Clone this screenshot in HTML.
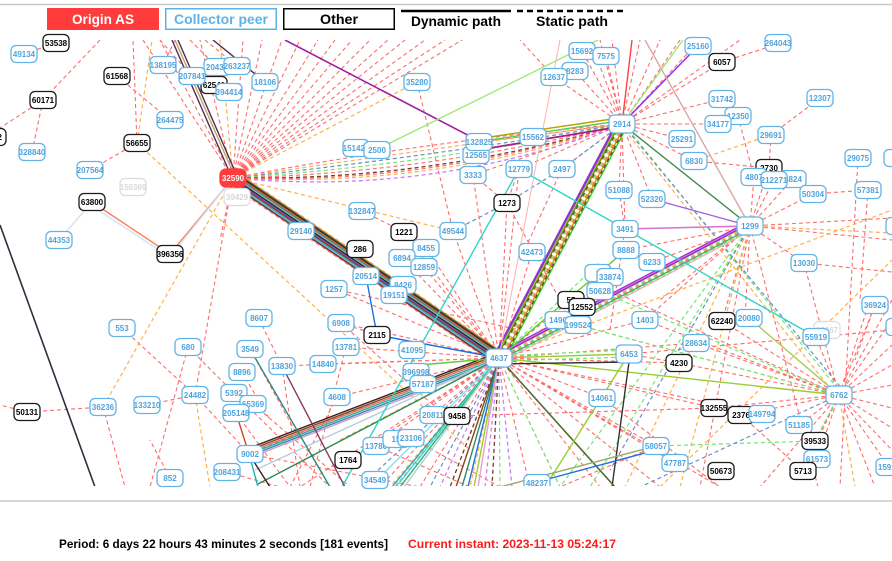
<!DOCTYPE html>
<html><head><meta charset="utf-8">
<style>
html,body{margin:0;padding:0;background:#fff;}
svg{display:block;}
.r{stroke:#ff6b6b;stroke-dasharray:4 3;stroke-width:1.1;fill:none}
.o{stroke:#ffb04a;stroke-dasharray:4 3;stroke-width:1.2;fill:none}
.g{stroke:#6fe86f;stroke-dasharray:4 3;stroke-width:1.2;fill:none}
.bd{stroke:#6a8cc4;stroke-dasharray:4 3;stroke-width:1.2;fill:none}
.pd{stroke:#c77dff;stroke-dasharray:4 3;stroke-width:1.3;fill:none}
.nd{stroke:#7b3b2a;stroke-dasharray:4 3;stroke-width:1.3;fill:none}
.s{fill:none;stroke-width:1.4}
.nb rect{fill:#fff;stroke:#63b4e6;stroke-width:1.3}
.nb text{fill:#4fa3dd}
.nk rect{fill:#fff;stroke:#1a1a1a;stroke-width:1.3}
.nk text{fill:#000}
.nf rect{fill:#fff;stroke:#dcdcdc;stroke-width:1.2}
.nf text{fill:#d8d8d8}
.no rect{fill:#ff3b3b;stroke:#ff3b3b;stroke-width:1.3}
.no text{fill:#fff}
.nodes text{font-family:"Liberation Sans",sans-serif;font-size:8px;font-weight:bold;text-anchor:middle}
.lg{font-family:"Liberation Sans",sans-serif;font-size:14px;font-weight:bold;text-anchor:middle}
.ft{font-family:"Liberation Sans",sans-serif;font-size:12px;font-weight:bold}
</style></head>
<body>
<svg width="892" height="561" viewBox="0 0 892 561" xmlns="http://www.w3.org/2000/svg">
<defs><clipPath id="c"><rect x="0" y="40" width="892" height="446"/></clipPath></defs>
<line x1="0" y1="4.5" x2="892" y2="4.5" stroke="#c8c8c8" stroke-width="1.5"/>
<line x1="0" y1="501" x2="892" y2="501" stroke="#c8c8c8" stroke-width="1.5"/>

<!-- legend -->
<rect x="47" y="8" width="112" height="22" fill="#ff3b3b"/>
<text class="lg" x="103" y="24" fill="#fff" textLength="62" lengthAdjust="spacingAndGlyphs">Origin AS</text>
<rect x="165.75" y="8.75" width="110.5" height="20.5" fill="#fff" stroke="#5db3e8" stroke-width="1.5"/>
<text class="lg" x="221" y="24" fill="#5db3e8" textLength="94" lengthAdjust="spacingAndGlyphs">Collector peer</text>
<rect x="283.75" y="8.75" width="110.5" height="20.5" fill="#fff" stroke="#000" stroke-width="1.5"/>
<text class="lg" x="339" y="24" fill="#000" textLength="38" lengthAdjust="spacingAndGlyphs">Other</text>
<line x1="401" y1="11" x2="511" y2="11" stroke="#000" stroke-width="2.5"/>
<text class="lg" x="456" y="26" fill="#000" textLength="90" lengthAdjust="spacingAndGlyphs">Dynamic path</text>
<line x1="517" y1="11" x2="627" y2="11" stroke="#000" stroke-width="2.5" stroke-dasharray="6 4"/>
<text class="lg" x="572" y="26" fill="#000" textLength="72" lengthAdjust="spacingAndGlyphs">Static path</text>

<g clip-path="url(#c)">
<!-- red dashed -->
<path class="r" d="M233 178L143 40M233 178L160 40M233 178L200 40M233 178L243 40M233 178L262 40M233 178L282 40M233 178L300 40M233 178L318 40M233 178L335 40M233 178L352 40M233 178L370 40M233 178L388 40M233 178L405 40M233 178L425 40M233 178L445 40M233 178L462 40M233 178L195 395M100 40L43 100M43 100L0 128M43 100L32 152M24 54L56 43M117 76L170 120M137 143L133 40M137 143L90 170M160 40L192 76M175 40L163 65M190 40L217 67M205 40L237 66M417 82L453 231M362 211L404 232M404 232L499 358M233 178L220 240"/>
<path class="r" d="M499 358L394 295M499 358L424 267M499 358L426 248M499 358L402 258M499 358L334 289M499 358L341 323M499 358L346 347M499 358L323 364M499 358L337 397M499 358L376 446M499 358L348 460M499 358L300 487M499 358L420 487M499 358L450 487M499 358L532 252M499 358L473 175M499 358L507 203M499 358L453 231M499 358L571 300M499 358L645 320M499 358L696 343M499 358L679 363M499 358L602 398M499 358L656 446M499 358L675 463M499 358L714 408M499 358L762 414M499 358L560 487M499 358L600 487M499 358L660 487M499 358L720 487M499 358L457 416M499 358L433 415M499 358L282 366M457 416L714 408M741 415L803 471M499 358L519 169M499 358L380 487M499 358L530 487"/>
<path class="r" d="M622 124L582 51M622 124L606 56M622 124L575 71M622 124L554 77M622 124L600 40M622 124L612 40M622 124L660 40M622 124L680 40M622 124L722 62M622 124L722 99M622 124L718 124M622 124L682 139M622 124L694 161M622 124L562 169M622 124L619 190M622 124L625 229M622 124L519 169M622 124L473 175M622 124L750 226M622 124L652 199M722 62L778 44M738 116L754 177M694 161L769 168M771 135L820 98M771 135L769 168M554 77L520 40M622 124L640 40M622 124L590 40M622 124L700 40M622 124L740 40M622 124L479 142M562 169L520 260M625 229L619 190M625 229L610 330M519 169L507 203M473 175L507 203M507 203L560 300"/>
<path class="r" d="M750 226L754 177M750 226L769 168M750 226L774 180M750 226L793 179M750 226L813 194M750 226L804 263M750 226L892 218M750 226L722 321M750 226L645 320M750 226L626 250M750 226L700 487M750 226L660 300M804 263L892 272M813 194L868 190M858 158L840 487M868 190L860 300M875 305L855 360M750 226L892 240M750 226L818 487M652 262L750 226M750 226L745 318"/>
<path class="r" d="M839 395L892 345M839 395L892 365M839 395L892 385M839 395L892 408M839 395L892 428M839 395L892 450M839 395L889 467M839 395L875 487M839 395L803 471M839 395L817 459M839 395L760 487M839 395L804 263M839 395L870 300M839 395L875 305M839 395L892 300M839 395L816 337M839 395L714 408M839 395L741 415M839 395L679 363M839 395L696 343M839 395L722 321M839 395L645 320M839 395L578 325M839 395L799 425M839 395L815 441M629 354L679 363M629 354L892 330M602 398L720 487M656 446L560 487M839 395L892 320M839 395L610 290"/>
<path class="r" d="M122 328L195 395M195 395L147 405M103 407L27 412M27 412L0 405M103 407L125 487M188 347L234 393M259 319L282 366M242 372L270 420M195 395L249 454M234 393L330 487M253 404L350 487M236 413L290 487M188 347L150 487M249 454L420 487M249 454L380 400M227 472L280 487M282 366L300 487M337 397L290 487M346 347L310 487M341 323L450 420M377 335L341 323M334 289L520 330M250 349L300 440M376 446L470 487M411 438L500 487M249 454L270 487M170 478L150 440"/>

<!-- A-B dashed curved bundle -->
<path class="r" d="M233 178Q426 141 622 124"/>
<path class="o" d="M233 178Q427 149 622 124"/>
<path class="bd" d="M233 178Q428 157 622 124"/>
<path class="g" d="M233 178Q429 165 622 124"/>
<path class="r" d="M233 178Q430 173 622 124"/>
<path class="nd" d="M233 178Q431 181 622 124"/>
<path class="o" d="M233 178Q432 189 622 124"/>
<path class="pd" d="M233 178Q433 197 622 124"/>
<path class="r" d="M233 178Q429 185 622 124"/>

<!-- orange dashed -->
<path class="o" d="M137 143L152 40M233 178L417 82M233 178L453 231M233 178L103 407M137 143L470 450M195 395L210 487M771 135L694 161M750 226L892 233M839 395L855 487M750 226L625 487M750 226L680 487M499 358L600 291M499 358L626 250M499 358L390 487M620 124L837 397M622 124L750 226M220 40L233 178M499 358L470 487M499 358L892 210M660 487L892 260M499 358L340 440"/>
<!-- green dashed -->
<path class="g" d="M499 356L629 350M499 361L629 357M578 325L839 395M600 291L839 395M656 446L815 441M815 441L839 395M499 358L500 487M499 358L560 487M750 226L590 487M750 226L560 487M624 124L841 393M499 358L600 262"/>
<!-- blue dashed -->
<path class="bd" d="M507 203L562 169M562 169L622 124M507 203L453 231M839 395L640 487M499 358L360 487M623 125L843 390M499 358L430 487M750 226L610 470"/>
<!-- purple/brown dashed -->
<path class="pd" d="M499 358L485 487M499 358L512 487M499 358L440 487M499 358L395 487"/>
<path class="nd" d="M499 358L492 487M499 358L450 487M499 358L400 487"/>

<!-- A-C thick bundle -->
<line x1="233" y1="178" x2="499" y2="358" stroke="#f6a8a8" stroke-width="15" opacity="0.55"/>
<g class="s">
<line x1="233" y1="178" x2="499" y2="358" stroke="#556b2f" transform="translate(3.38 -4.96)"/>
<line x1="233" y1="178" x2="499" y2="358" stroke="#3b1f2b" transform="translate(2.7 -3.97)"/>
<line x1="233" y1="178" x2="499" y2="358" stroke="#d2691e" transform="translate(2.03 -2.98)"/>
<line x1="233" y1="178" x2="499" y2="358" stroke="#4682b4" transform="translate(1.35 -1.98)"/>
<line x1="233" y1="178" x2="499" y2="358" stroke="#8fbc8f" transform="translate(0.68 -0.99)"/>
<line x1="233" y1="178" x2="499" y2="358" stroke="#222"/>
<line x1="233" y1="178" x2="499" y2="358" stroke="#6a5acd" transform="translate(-0.68 0.99)"/>
<line x1="233" y1="178" x2="499" y2="358" stroke="#b22222" transform="translate(-1.35 1.98)"/>
<line x1="233" y1="178" x2="499" y2="358" stroke="#20b2aa" transform="translate(-2.03 2.98)"/>
<line x1="233" y1="178" x2="499" y2="358" stroke="#87aee0" transform="translate(-2.7 3.97)"/>
<line x1="233" y1="178" x2="499" y2="358" stroke="#5c3a21" transform="translate(-3.38 4.96)"/>
</g>
<line x1="233" y1="178" x2="499" y2="358" class="o" transform="translate(4.05 -5.95)"/>
<line x1="233" y1="178" x2="499" y2="358" class="r" transform="translate(-4.05 5.95)"/>

<!-- C-B bundle -->
<g class="s">
<line x1="499" y1="358" x2="622" y2="124" stroke="#9932cc" transform="translate(-4.9 -2.6)"/>
<line x1="499" y1="358" x2="622" y2="124" stroke="#8a2be2" transform="translate(-3.9 -2.05)"/>
<line x1="499" y1="358" x2="622" y2="124" stroke="#9acd32" transform="translate(-2.9 -1.5)"/>
<line x1="499" y1="358" x2="622" y2="124" stroke="#6b8e23" transform="translate(-1.95 -1.0)"/>
<line x1="499" y1="358" x2="622" y2="124" stroke="#b5a000" transform="translate(2.9 1.5)"/>
<line x1="499" y1="358" x2="622" y2="124" stroke="#32cd32" transform="translate(4.9 2.6)"/>
</g>
<line x1="499" y1="358" x2="622" y2="124" class="nd" transform="translate(-1 -0.5)"/>
<line x1="499" y1="358" x2="622" y2="124" class="g"/>
<line x1="499" y1="358" x2="622" y2="124" class="o" transform="translate(1 0.5)"/>
<line x1="499" y1="358" x2="622" y2="124" class="r" transform="translate(1.95 1.0)"/>
<line x1="499" y1="358" x2="622" y2="124" class="nd" transform="translate(3.9 2.05)"/>

<!-- C-D bundle -->
<g class="s">
<line x1="499" y1="358" x2="750" y2="226" stroke="#9932cc" transform="translate(-2.1 -4)"/>
<line x1="499" y1="358" x2="750" y2="226" stroke="#da70d6" transform="translate(-1.55 -3)"/>
<line x1="499" y1="358" x2="750" y2="226" stroke="#8a2be2" transform="translate(-1.05 -2)"/>
<line x1="499" y1="358" x2="750" y2="226" stroke="#3cb371" transform="translate(1.05 2)"/>
<line x1="499" y1="358" x2="750" y2="226" stroke="#e8b4b4" transform="translate(2.1 4)"/>
</g>
<line x1="499" y1="358" x2="750" y2="226" class="o" transform="translate(-0.52 -1)"/>
<line x1="499" y1="358" x2="750" y2="226" class="g"/>
<line x1="499" y1="358" x2="750" y2="226" class="r" transform="translate(0.52 1)"/>
<line x1="499" y1="358" x2="750" y2="226" class="g" transform="translate(1.55 3)"/>

<!-- F-C bundle -->
<g class="s">
<line x1="249" y1="454" x2="499" y2="358" stroke="#3b1f2b" transform="translate(-1.94 -5.04)"/>
<line x1="249" y1="454" x2="499" y2="358" stroke="#8b4513" transform="translate(-1.29 -3.36)"/>
<line x1="249" y1="454" x2="499" y2="358" stroke="#e2725b" transform="translate(-0.65 -1.68)"/>
<line x1="249" y1="454" x2="499" y2="358" stroke="#20b2aa"/>
<line x1="249" y1="454" x2="499" y2="358" stroke="#4682b4" transform="translate(0.65 1.68)"/>
<line x1="249" y1="454" x2="499" y2="358" stroke="#c8a2c8" transform="translate(1.29 3.36)"/>
<line x1="255" y1="470" x2="499" y2="358" stroke="#b8cde0"/>
<line x1="258" y1="484" x2="499" y2="358" stroke="#2e8b57"/>
<line x1="249" y1="454" x2="270" y2="487" stroke="#3b1f2b"/>
<line x1="249" y1="454" x2="258" y2="487" stroke="#20b2aa"/>
</g>

<!-- C lower-left bundle -->
<g class="s">
<line x1="499" y1="358" x2="392" y2="487" stroke="#20b2aa"/>
<line x1="499" y1="358" x2="396" y2="487" stroke="#40e0d0"/>
<line x1="499" y1="358" x2="400" y2="487" stroke="#3cb371"/>
<line x1="499" y1="358" x2="404" y2="487" stroke="#9fd8d0"/>
<line x1="499" y1="358" x2="370" y2="487" stroke="#87e0f0"/>
<line x1="499" y1="358" x2="456" y2="487" stroke="#8b4513"/>
<line x1="499" y1="358" x2="462" y2="487" stroke="#2a8a7a"/>
<line x1="499" y1="358" x2="468" y2="487" stroke="#1e6fe0"/>
<line x1="499" y1="358" x2="474" y2="487" stroke="#9acd32"/>
<line x1="499" y1="358" x2="478" y2="487" stroke="#e8a0d0"/>
<line x1="499" y1="358" x2="420" y2="365" stroke="#6c3"/>
</g>

<!-- other solid lines -->
<g class="s">
<line x1="0" y1="225" x2="95" y2="487" stroke="#3a2a3f" stroke-width="1.6"/>
<line x1="172" y1="40" x2="232" y2="178" stroke="#4b2f57"/>
<line x1="175" y1="40" x2="235" y2="177" stroke="#c9a25a"/>
<line x1="178" y1="40" x2="237" y2="176" stroke="#4b2f57"/>
<line x1="213" y1="40" x2="265" y2="82" stroke="#4b2f57"/>
<line x1="285" y1="40" x2="481" y2="142" stroke="#a020a0" stroke-width="1.6"/>
<line x1="490" y1="137" x2="612" y2="119" stroke="#b5a000"/>
<line x1="490" y1="140" x2="612" y2="122" stroke="#5c5"/>
<line x1="490" y1="148" x2="612" y2="128" stroke="#a0208f" stroke-width="1.8"/>
<line x1="233" y1="178" x2="170" y2="254" stroke="#ff7f50"/>
<line x1="233" y1="178" x2="172" y2="254" stroke="#cfe3f7"/>
<line x1="92" y1="202" x2="170" y2="254" stroke="#ff7f50"/>
<line x1="92" y1="206" x2="168" y2="256" stroke="#cfe3f7"/>
<line x1="92" y1="202" x2="59" y2="240" stroke="#cfe3f7"/>
<line x1="376" y1="150" x2="598" y2="40" stroke="#a0e878"/>
<line x1="622" y1="124" x2="683" y2="40" stroke="#a0e878"/>
<line x1="622" y1="124" x2="698" y2="46" stroke="#9932ff" stroke-width="1.6"/>
<line x1="622" y1="124" x2="632" y2="40" stroke="#ff4040"/>
<line x1="645" y1="40" x2="750" y2="226" stroke="#d8a8a8"/>
<line x1="622" y1="124" x2="750" y2="226" stroke="#3a8f50"/>
<line x1="652" y1="199" x2="750" y2="226" stroke="#a060e0"/>
<line x1="625" y1="229" x2="750" y2="226" stroke="#da70d6"/>
<line x1="519" y1="169" x2="625" y2="229" stroke="#30d5c8"/>
<line x1="625" y1="229" x2="816" y2="337" stroke="#30d5c8"/>
<line x1="519" y1="169" x2="342" y2="487" stroke="#30d5c8"/>
<line x1="377" y1="335" x2="366" y2="276" stroke="#1e6fe0"/>
<line x1="377" y1="335" x2="499" y2="358" stroke="#1e6fe0"/>
<line x1="499" y1="358" x2="839" y2="395" stroke="#9acd32"/>
<line x1="749" y1="318" x2="839" y2="395" stroke="#a8c94a"/>
<line x1="499" y1="358" x2="629" y2="354" stroke="#9acd32"/>
<line x1="499" y1="364" x2="629" y2="362" stroke="#333"/>
<line x1="629" y1="362" x2="612" y2="487" stroke="#333"/>
<line x1="499" y1="358" x2="615" y2="487" stroke="#556b2f" stroke-width="1.6"/>
<line x1="629" y1="354" x2="545" y2="487" stroke="#9acd32"/>
<line x1="500" y1="487" x2="656" y2="446" stroke="#a0a870"/>
<line x1="537" y1="482" x2="656" y2="450" stroke="#1e6fe0"/>
<line x1="250" y1="349" x2="330" y2="487" stroke="#2a8a7a"/>
<line x1="282" y1="366" x2="345" y2="487" stroke="#8b3a62"/>
<line x1="236" y1="413" x2="249" y2="454" stroke="#c0502a"/>
<line x1="499" y1="358" x2="626" y2="250" stroke="#6c3"/>
<line x1="499" y1="358" x2="560" y2="40" stroke="#ffb0b0" stroke-width="1"/>
</g>
</g>

<!-- nodes -->
<g class="nodes">
<g class="nk" transform="translate(56,43)"><rect x="-13" y="-8.5" width="26" height="17" rx="5"/><text y="3">53538</text></g>
<g class="nb" transform="translate(24,54)"><rect x="-13" y="-8.5" width="26" height="17" rx="5"/><text y="3">49134</text></g>
<g class="nk" transform="translate(117,76)"><rect x="-13" y="-8.5" width="26" height="17" rx="5"/><text y="3">61568</text></g>
<g class="nb" transform="translate(163,65)"><rect x="-13" y="-8.5" width="26" height="17" rx="5"/><text y="3">138195</text></g>
<g class="nb" transform="translate(217,67)"><rect x="-13" y="-8.5" width="26" height="17" rx="5"/><text y="3">20435</text></g>
<g class="nk" transform="translate(214,85)"><rect x="-13" y="-8.5" width="26" height="17" rx="5"/><text y="3">62540</text></g>
<g class="nb" transform="translate(192,76)"><rect x="-13" y="-8.5" width="26" height="17" rx="5"/><text y="3">207841</text></g>
<g class="nb" transform="translate(237,66)"><rect x="-13" y="-8.5" width="26" height="17" rx="5"/><text y="3">263237</text></g>
<g class="nb" transform="translate(229,92)"><rect x="-13" y="-8.5" width="26" height="17" rx="5"/><text y="3">394414</text></g>
<g class="nb" transform="translate(265,82)"><rect x="-13" y="-8.5" width="26" height="17" rx="5"/><text y="3">18106</text></g>
<g class="nb" transform="translate(417,82)"><rect x="-13" y="-8.5" width="26" height="17" rx="5"/><text y="3">35280</text></g>
<g class="nk" transform="translate(43,100)"><rect x="-13" y="-8.5" width="26" height="17" rx="5"/><text y="3">60171</text></g>
<g class="nb" transform="translate(170,120)"><rect x="-13" y="-8.5" width="26" height="17" rx="5"/><text y="3">264475</text></g>
<g class="nk" transform="translate(-7,137)"><rect x="-13" y="-8.5" width="26" height="17" rx="5"/><text y="3">3262</text></g>
<g class="nb" transform="translate(32,152)"><rect x="-13" y="-8.5" width="26" height="17" rx="5"/><text y="3">328840</text></g>
<g class="nk" transform="translate(137,143)"><rect x="-13" y="-8.5" width="26" height="17" rx="5"/><text y="3">56655</text></g>
<g class="nb" transform="translate(90,170)"><rect x="-13" y="-8.5" width="26" height="17" rx="5"/><text y="3">207564</text></g>
<g class="nf" transform="translate(133,187)"><rect x="-13" y="-8.5" width="26" height="17" rx="5"/><text y="3">150369</text></g>
<g class="nf" transform="translate(237,197)"><rect x="-13" y="-8.5" width="26" height="17" rx="5"/><text y="3">39429</text></g>
<g class="no" transform="translate(233,178)"><rect x="-13" y="-9" width="26" height="18" rx="6"/><text y="3">32590</text></g>
<g class="nb" transform="translate(356,148)"><rect x="-13" y="-8.5" width="26" height="17" rx="5"/><text y="3">151420</text></g>
<g class="nb" transform="translate(377,150)"><rect x="-13" y="-8.5" width="26" height="17" rx="5"/><text y="3">2500</text></g>
<g class="nk" transform="translate(92,202)"><rect x="-13" y="-8.5" width="26" height="17" rx="5"/><text y="3">63800</text></g>
<g class="nb" transform="translate(59,240)"><rect x="-13" y="-8.5" width="26" height="17" rx="5"/><text y="3">44353</text></g>
<g class="nk" transform="translate(170,254)"><rect x="-13" y="-8.5" width="26" height="17" rx="5"/><text y="3">396356</text></g>
<g class="nb" transform="translate(362,211)"><rect x="-13" y="-8.5" width="26" height="17" rx="5"/><text y="3">132847</text></g>
<g class="nb" transform="translate(301,231)"><rect x="-13" y="-8.5" width="26" height="17" rx="5"/><text y="3">29140</text></g>
<g class="nk" transform="translate(404,232)"><rect x="-13" y="-8.5" width="26" height="17" rx="5"/><text y="3">1221</text></g>
<g class="nk" transform="translate(360,249)"><rect x="-13" y="-8.5" width="26" height="17" rx="5"/><text y="3">286</text></g>
<g class="nb" transform="translate(453,231)"><rect x="-13" y="-8.5" width="26" height="17" rx="5"/><text y="3">49544</text></g>
<g class="nb" transform="translate(426,248)"><rect x="-13" y="-8.5" width="26" height="17" rx="5"/><text y="3">8455</text></g>
<g class="nb" transform="translate(402,258)"><rect x="-13" y="-8.5" width="26" height="17" rx="5"/><text y="3">6894</text></g>
<g class="nb" transform="translate(424,267)"><rect x="-13" y="-8.5" width="26" height="17" rx="5"/><text y="3">12859</text></g>
<g class="nb" transform="translate(366,276)"><rect x="-13" y="-8.5" width="26" height="17" rx="5"/><text y="3">20514</text></g>
<g class="nb" transform="translate(403,285)"><rect x="-13" y="-8.5" width="26" height="17" rx="5"/><text y="3">8426</text></g>
<g class="nb" transform="translate(394,295)"><rect x="-13" y="-8.5" width="26" height="17" rx="5"/><text y="3">19151</text></g>
<g class="nb" transform="translate(334,289)"><rect x="-13" y="-8.5" width="26" height="17" rx="5"/><text y="3">1257</text></g>
<g class="nb" transform="translate(122,328)"><rect x="-13" y="-8.5" width="26" height="17" rx="5"/><text y="3">553</text></g>
<g class="nb" transform="translate(188,347)"><rect x="-13" y="-8.5" width="26" height="17" rx="5"/><text y="3">680</text></g>
<g class="nb" transform="translate(259,318)"><rect x="-13" y="-8.5" width="26" height="17" rx="5"/><text y="3">8607</text></g>
<g class="nb" transform="translate(250,349)"><rect x="-13" y="-8.5" width="26" height="17" rx="5"/><text y="3">3549</text></g>
<g class="nb" transform="translate(282,366)"><rect x="-13" y="-8.5" width="26" height="17" rx="5"/><text y="3">13830</text></g>
<g class="nb" transform="translate(341,323)"><rect x="-13" y="-8.5" width="26" height="17" rx="5"/><text y="3">6908</text></g>
<g class="nk" transform="translate(377,335)"><rect x="-13" y="-8.5" width="26" height="17" rx="5"/><text y="3">2115</text></g>
<g class="nb" transform="translate(346,347)"><rect x="-13" y="-8.5" width="26" height="17" rx="5"/><text y="3">13781</text></g>
<g class="nb" transform="translate(323,364)"><rect x="-13" y="-8.5" width="26" height="17" rx="5"/><text y="3">14840</text></g>
<g class="nb" transform="translate(412,350)"><rect x="-13" y="-8.5" width="26" height="17" rx="5"/><text y="3">41095</text></g>
<g class="nb" transform="translate(242,372)"><rect x="-13" y="-8.5" width="26" height="17" rx="5"/><text y="3">8896</text></g>
<g class="nb" transform="translate(416,372)"><rect x="-13" y="-8.5" width="26" height="17" rx="5"/><text y="3">396998</text></g>
<g class="nb" transform="translate(423,384)"><rect x="-13" y="-8.5" width="26" height="17" rx="5"/><text y="3">57187</text></g>
<g class="nb" transform="translate(195,395)"><rect x="-13" y="-8.5" width="26" height="17" rx="5"/><text y="3">24482</text></g>
<g class="nb" transform="translate(234,393)"><rect x="-13" y="-8.5" width="26" height="17" rx="5"/><text y="3">5392</text></g>
<g class="nb" transform="translate(253,404)"><rect x="-13" y="-8.5" width="26" height="17" rx="5"/><text y="3">65369</text></g>
<g class="nb" transform="translate(236,413)"><rect x="-13" y="-8.5" width="26" height="17" rx="5"/><text y="3">205148</text></g>
<g class="nb" transform="translate(103,407)"><rect x="-13" y="-8.5" width="26" height="17" rx="5"/><text y="3">36236</text></g>
<g class="nb" transform="translate(147,405)"><rect x="-13" y="-8.5" width="26" height="17" rx="5"/><text y="3">133210</text></g>
<g class="nk" transform="translate(27,412)"><rect x="-13" y="-8.5" width="26" height="17" rx="5"/><text y="3">50131</text></g>
<g class="nb" transform="translate(337,397)"><rect x="-13" y="-8.5" width="26" height="17" rx="5"/><text y="3">4608</text></g>
<g class="nb" transform="translate(433,415)"><rect x="-13" y="-8.5" width="26" height="17" rx="5"/><text y="3">20811</text></g>
<g class="nk" transform="translate(457,416)"><rect x="-13" y="-8.5" width="26" height="17" rx="5"/><text y="3">9458</text></g>
<g class="nb" transform="translate(376,446)"><rect x="-13" y="-8.5" width="26" height="17" rx="5"/><text y="3">13786</text></g>
<g class="nb" transform="translate(396,439)"><rect x="-13" y="-8.5" width="26" height="17" rx="5"/><text y="3">15</text></g>
<g class="nb" transform="translate(411,438)"><rect x="-13" y="-8.5" width="26" height="17" rx="5"/><text y="3">23106</text></g>
<g class="nb" transform="translate(250,454)"><rect x="-13" y="-8.5" width="26" height="17" rx="5"/><text y="3">9002</text></g>
<g class="nk" transform="translate(348,460)"><rect x="-13" y="-8.5" width="26" height="17" rx="5"/><text y="3">1764</text></g>
<g class="nb" transform="translate(227,472)"><rect x="-13" y="-8.5" width="26" height="17" rx="5"/><text y="3">208431</text></g>
<g class="nb" transform="translate(170,478)"><rect x="-13" y="-8.5" width="26" height="17" rx="5"/><text y="3">852</text></g>
<g class="nb" transform="translate(375,480)"><rect x="-13" y="-8.5" width="26" height="17" rx="5"/><text y="3">34549</text></g>

<g class="nb" transform="translate(582,51)"><rect x="-13" y="-8.5" width="26" height="17" rx="5"/><text y="3">15692</text></g>
<g class="nb" transform="translate(606,56)"><rect x="-13" y="-8.5" width="26" height="17" rx="5"/><text y="3">7575</text></g>
<g class="nb" transform="translate(698,46)"><rect x="-13" y="-8.5" width="26" height="17" rx="5"/><text y="3">25160</text></g>
<g class="nb" transform="translate(778,43)"><rect x="-13" y="-8.5" width="26" height="17" rx="5"/><text y="3">264043</text></g>
<g class="nk" transform="translate(722,62)"><rect x="-13" y="-8.5" width="26" height="17" rx="5"/><text y="3">6057</text></g>
<g class="nb" transform="translate(575,71)"><rect x="-13" y="-8.5" width="26" height="17" rx="5"/><text y="3">8283</text></g>
<g class="nb" transform="translate(554,77)"><rect x="-13" y="-8.5" width="26" height="17" rx="5"/><text y="3">12637</text></g>
<g class="nb" transform="translate(722,99)"><rect x="-13" y="-8.5" width="26" height="17" rx="5"/><text y="3">31742</text></g>
<g class="nb" transform="translate(820,98)"><rect x="-13" y="-8.5" width="26" height="17" rx="5"/><text y="3">12307</text></g>
<g class="nb" transform="translate(738,116)"><rect x="-13" y="-8.5" width="26" height="17" rx="5"/><text y="3">12350</text></g>
<g class="nb" transform="translate(718,124)"><rect x="-13" y="-8.5" width="26" height="17" rx="5"/><text y="3">34177</text></g>
<g class="nb" transform="translate(622,124)"><rect x="-13" y="-9" width="26" height="18" rx="5"/><text y="3">2914</text></g>
<g class="nb" transform="translate(682,139)"><rect x="-13" y="-8.5" width="26" height="17" rx="5"/><text y="3">25291</text></g>
<g class="nb" transform="translate(476,155)"><rect x="-13" y="-8.5" width="26" height="17" rx="5"/><text y="3">12565</text></g>
<g class="nb" transform="translate(479,142)"><rect x="-13" y="-8.5" width="26" height="17" rx="5"/><text y="3">132825</text></g>
<g class="nb" transform="translate(533,137)"><rect x="-13" y="-8.5" width="26" height="17" rx="5"/><text y="3">15562</text></g>
<g class="nb" transform="translate(771,135)"><rect x="-13" y="-8.5" width="26" height="17" rx="5"/><text y="3">29691</text></g>
<g class="nb" transform="translate(694,161)"><rect x="-13" y="-8.5" width="26" height="17" rx="5"/><text y="3">6830</text></g>
<g class="nb" transform="translate(473,175)"><rect x="-13" y="-8.5" width="26" height="17" rx="5"/><text y="3">3333</text></g>
<g class="nb" transform="translate(519,169)"><rect x="-13" y="-8.5" width="26" height="17" rx="5"/><text y="3">12779</text></g>
<g class="nb" transform="translate(562,169)"><rect x="-13" y="-8.5" width="26" height="17" rx="5"/><text y="3">2497</text></g>
<g class="nk" transform="translate(769,168)"><rect x="-13" y="-8.5" width="26" height="17" rx="5"/><text y="3">2730</text></g>
<g class="nb" transform="translate(858,158)"><rect x="-13" y="-8.5" width="26" height="17" rx="5"/><text y="3">29075</text></g>
<g class="nb" transform="translate(897,158)"><rect x="-13" y="-8.5" width="26" height="17" rx="5"/><text y="3">35</text></g>
<g class="nb" transform="translate(754,177)"><rect x="-13" y="-8.5" width="26" height="17" rx="5"/><text y="3">4807</text></g>
<g class="nb" transform="translate(793,179)"><rect x="-13" y="-8.5" width="26" height="17" rx="5"/><text y="3">6824</text></g>
<g class="nb" transform="translate(774,180)"><rect x="-13" y="-8.5" width="26" height="17" rx="5"/><text y="3">212271</text></g>
<g class="nb" transform="translate(813,194)"><rect x="-13" y="-8.5" width="26" height="17" rx="5"/><text y="3">50304</text></g>
<g class="nb" transform="translate(868,190)"><rect x="-13" y="-8.5" width="26" height="17" rx="5"/><text y="3">57381</text></g>
<g class="nk" transform="translate(507,203)"><rect x="-13" y="-8.5" width="26" height="17" rx="5"/><text y="3">1273</text></g>
<g class="nb" transform="translate(619,190)"><rect x="-13" y="-8.5" width="26" height="17" rx="5"/><text y="3">51088</text></g>
<g class="nb" transform="translate(652,199)"><rect x="-13" y="-8.5" width="26" height="17" rx="5"/><text y="3">52320</text></g>
<g class="nb" transform="translate(625,229)"><rect x="-13" y="-8.5" width="26" height="17" rx="5"/><text y="3">3491</text></g>
<g class="nb" transform="translate(750,226)"><rect x="-13" y="-9" width="26" height="18" rx="5"/><text y="3">1299</text></g>
<g class="nb" transform="translate(899,226)"><rect x="-13" y="-8.5" width="26" height="17" rx="5"/><text y="3">17</text></g>
<g class="nb" transform="translate(532,252)"><rect x="-13" y="-8.5" width="26" height="17" rx="5"/><text y="3">42473</text></g>
<g class="nb" transform="translate(626,250)"><rect x="-13" y="-8.5" width="26" height="17" rx="5"/><text y="3">8888</text></g>
<g class="nb" transform="translate(652,262)"><rect x="-13" y="-8.5" width="26" height="17" rx="5"/><text y="3">6233</text></g>
<g class="nb" transform="translate(804,263)"><rect x="-13" y="-8.5" width="26" height="17" rx="5"/><text y="3">13030</text></g>
<g class="nb" transform="translate(598,273)"><rect x="-13" y="-8.5" width="26" height="17" rx="5"/><text y="3">1</text></g>
<g class="nb" transform="translate(610,277)"><rect x="-13" y="-8.5" width="26" height="17" rx="5"/><text y="3">33874</text></g>
<g class="nb" transform="translate(600,291)"><rect x="-13" y="-8.5" width="26" height="17" rx="5"/><text y="3">50628</text></g>
<g class="nk" transform="translate(571,300)"><rect x="-13" y="-8.5" width="26" height="17" rx="5"/><text y="3">55</text></g>
<g class="nk" transform="translate(582,307)"><rect x="-13" y="-8.5" width="26" height="17" rx="5"/><text y="3">12552</text></g>
<g class="nb" transform="translate(875,305)"><rect x="-13" y="-8.5" width="26" height="17" rx="5"/><text y="3">36924</text></g>
<g class="nb" transform="translate(558,320)"><rect x="-13" y="-8.5" width="26" height="17" rx="5"/><text y="3">1490</text></g>
<g class="nb" transform="translate(578,325)"><rect x="-13" y="-8.5" width="26" height="17" rx="5"/><text y="3">199524</text></g>
<g class="nb" transform="translate(645,320)"><rect x="-13" y="-8.5" width="26" height="17" rx="5"/><text y="3">1403</text></g>
<g class="nk" transform="translate(722,321)"><rect x="-13" y="-8.5" width="26" height="17" rx="5"/><text y="3">62240</text></g>
<g class="nb" transform="translate(749,318)"><rect x="-13" y="-8.5" width="26" height="17" rx="5"/><text y="3">20080</text></g>
<g class="nf" transform="translate(827,330)"><rect x="-13" y="-8.5" width="26" height="17" rx="5"/><text y="3">28867</text></g>
<g class="nb" transform="translate(899,327)"><rect x="-13" y="-8.5" width="26" height="17" rx="5"/><text y="3">3</text></g>
<g class="nb" transform="translate(816,337)"><rect x="-13" y="-8.5" width="26" height="17" rx="5"/><text y="3">55919</text></g>
<g class="nb" transform="translate(696,343)"><rect x="-13" y="-8.5" width="26" height="17" rx="5"/><text y="3">28634</text></g>
<g class="nb" transform="translate(499,358)"><rect x="-13" y="-9" width="26" height="18" rx="5"/><text y="3">4637</text></g>
<g class="nb" transform="translate(629,354)"><rect x="-13" y="-9" width="26" height="18" rx="5"/><text y="3">6453</text></g>
<g class="nk" transform="translate(679,363)"><rect x="-13" y="-8.5" width="26" height="17" rx="5"/><text y="3">4230</text></g>
<g class="nb" transform="translate(839,395)"><rect x="-13" y="-9" width="26" height="18" rx="5"/><text y="3">6762</text></g>
<g class="nb" transform="translate(602,398)"><rect x="-13" y="-8.5" width="26" height="17" rx="5"/><text y="3">14061</text></g>
<g class="nk" transform="translate(714,408)"><rect x="-13" y="-8.5" width="26" height="17" rx="5"/><text y="3">132555</text></g>
<g class="nk" transform="translate(741,415)"><rect x="-13" y="-8.5" width="26" height="17" rx="5"/><text y="3">2376</text></g>
<g class="nb" transform="translate(762,414)"><rect x="-13" y="-8.5" width="26" height="17" rx="5"/><text y="3">149794</text></g>
<g class="nb" transform="translate(799,425)"><rect x="-13" y="-8.5" width="26" height="17" rx="5"/><text y="3">51185</text></g>
<g class="nk" transform="translate(815,441)"><rect x="-13" y="-8.5" width="26" height="17" rx="5"/><text y="3">39533</text></g>
<g class="nb" transform="translate(656,446)"><rect x="-13" y="-8.5" width="26" height="17" rx="5"/><text y="3">58057</text></g>
<g class="nb" transform="translate(817,459)"><rect x="-13" y="-8.5" width="26" height="17" rx="5"/><text y="3">61573</text></g>
<g class="nb" transform="translate(675,463)"><rect x="-13" y="-8.5" width="26" height="17" rx="5"/><text y="3">47787</text></g>
<g class="nk" transform="translate(721,471)"><rect x="-13" y="-8.5" width="26" height="17" rx="5"/><text y="3">50673</text></g>
<g class="nk" transform="translate(803,471)"><rect x="-13" y="-8.5" width="26" height="17" rx="5"/><text y="3">5713</text></g>
<g class="nb" transform="translate(889,467)"><rect x="-13" y="-8.5" width="26" height="17" rx="5"/><text y="3">15918</text></g>
<g clip-path="url(#c)"><g class="nb" transform="translate(537,483)"><rect x="-13" y="-8.5" width="26" height="17" rx="5"/><text y="3">48237</text></g></g>
</g>

<!-- footer -->
<text class="ft" x="59" y="548" fill="#000" textLength="329" lengthAdjust="spacingAndGlyphs">Period: 6 days 22 hours 43 minutes 2 seconds [181 events]</text>
<text class="ft" x="408" y="548" fill="#ff1a1a" textLength="208" lengthAdjust="spacingAndGlyphs">Current instant: 2023-11-13 05:24:17</text>
</svg>
</body></html>
